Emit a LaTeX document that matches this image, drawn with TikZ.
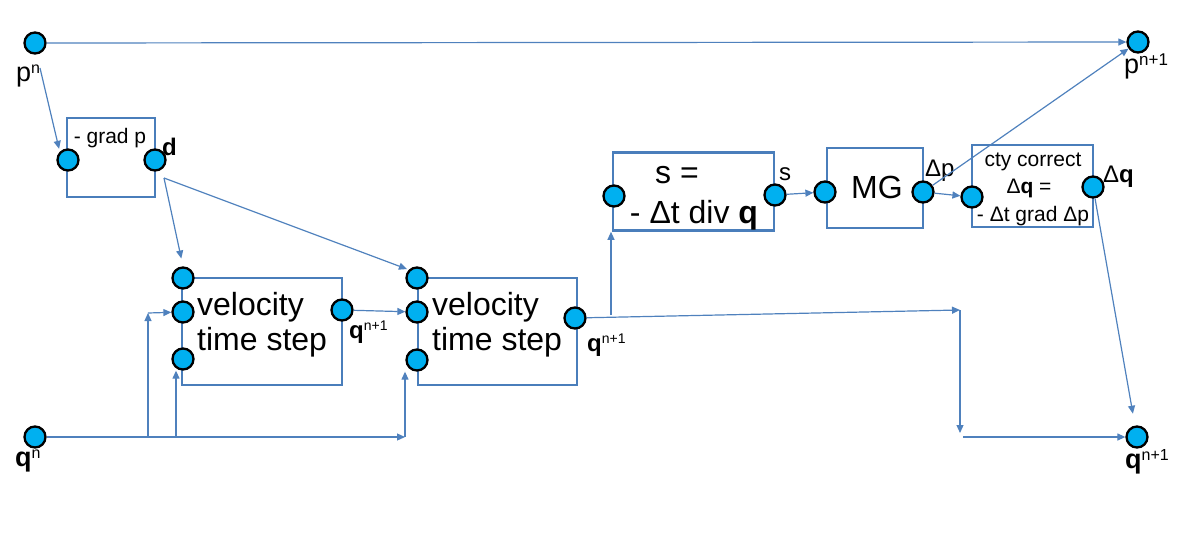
\documentclass[tikz,border=0pt]{standalone}
\usepackage{fontspec}
\setmainfont{Liberation Sans}
\usetikzlibrary{arrows.meta,positioning}
\definecolor{boxblue}{RGB}{74,126,187}
\definecolor{lineblue}{RGB}{79,129,189}
\definecolor{portblue}{RGB}{0,176,240}
\newcommand{\upidx}[2][14]{\raisebox{8pt}{\fontsize{#1}{#1}\selectfont #2}}
\tikzset{
  block/.style={
    draw=boxblue,
    line width=2.6pt,
    inner sep=0pt
  },
  port/.style={
    circle,
    draw=black,
    line width=2.3pt,
    fill=portblue,
    minimum size=21pt,
    inner sep=0pt
  },
  bigtxt/.style={
    inner sep=0pt,
    align=left,
    font=\fontsize{32}{35}\selectfont
  },
  smalltxt/.style={
    inner sep=0pt,
    align=center,
    font=\fontsize{21}{27.5}\selectfont
  },
  tag/.style={
    inner sep=0pt,
    anchor=base west,
    font=\fontsize{24}{24}\selectfont
  },
  endtag/.style={
    tag,
    font=\fontsize{27}{27}\selectfont
  },
  flow/.style={-{Triangle[length=8pt,width=7pt]}, line width=1.2pt, draw=lineblue}
}
\begin{document}
\begin{tikzpicture}[x=1pt, y=-1pt]
  \useasboundingbox (0,0) rectangle (1177,538);

  \node[block, minimum width=88pt, minimum height=79pt] (grad) at (111,157.5) {};
  \node[block, minimum width=160pt, minimum height=107pt] (vel1) at (262,331.5) {};
  \node[block, minimum width=159pt, minimum height=107pt] (vel2) at (497.5,331.5) {};
  \node[block, minimum width=161pt, minimum height=78pt] (sbox) at (693.5,191.5) {};
  \node[block, minimum width=96pt, minimum height=80pt] (mg) at (875,188) {};
  \node[block, minimum width=121pt, minimum height=82pt] (cty) at (1032.5,186) {};

  \node[smalltxt, anchor=base] (gradtxt) at (110,143) {- grad p};
  \node[bigtxt, anchor=west] (vel1txt) at (197,324.5) {velocity\\time step};
  \node[bigtxt, anchor=west] (vel2txt) at (432,324.5) {velocity\\time step};
  \node[bigtxt, align=center, font=\fontsize{32}{40}\selectfont] (stxt) at (694,198) {s =\rule{34pt}{0pt}\\- Δt div \textbf{q}};
  \node[bigtxt, anchor=base] (mgtxt) at (877,198) {MG};
  \node[smalltxt] (ctytxt) at (1033,189) {cty correct\\Δ\textbf{q} =\rule{8pt}{0pt}\\- Δt grad Δp};

  \node[port] (pn) at (35,43) {};
  \node[port] (pn1) at (1138,42) {};
  \node[port] (qn) at (35,437) {};
  \node[port] (qn1) at (1137,437) {};
  \node[port] (gl) at (68,160) {};
  \node[port] (gr) at (155,160) {};
  \node[port] (v1a) at (183,278) {};
  \node[port] (v1b) at (183,312) {};
  \node[port] (v1c) at (183,359) {};
  \node[port] (v1r) at (342,310) {};
  \node[port] (v2a) at (417,278) {};
  \node[port] (v2b) at (417,312) {};
  \node[port] (v2c) at (417,360) {};
  \node[port] (v2r) at (575,318) {};
  \node[port] (sl) at (614,196) {};
  \node[port] (sr) at (775,195) {};
  \node[port] (ml) at (825,192) {};
  \node[port] (mr) at (923,192) {};
  \node[port] (cl) at (972,197) {};
  \node[port] (cr) at (1093,187) {};

  \node[endtag] (pnlbl) at (16,81) {p\upidx[16]{n}};
  \node[endtag] (pn1lbl) at (1124,73) {p\upidx[17]{n+1}};
  \node[endtag] (qnlbl) at (15,466) {\textbf{q}\upidx[16]{n}};
  \node[endtag] (qn1lbl) at (1125,468) {\textbf{q}\upidx[16]{n+1}};
  \node[tag] (dlbl) at (162,155) {\textbf{d}};
  \node[tag] (v1lbl) at (349,338) {\textbf{q}\upidx{n+1}};
  \node[tag] (v2lbl) at (587,351) {\textbf{q}\upidx{n+1}};
  \node[tag] (slbl) at (779,180) {s};
  \node[tag] (dplbl) at (925,176) {Δp};
  \node[tag] (dqlbl) at (1103,182) {Δ\textbf{q}};

  \coordinate (dout) at (164,178);
  \coordinate (qend) at (405,437);
  \coordinate (qa) at (148,437);
  \coordinate (qat) at (148,313);
  \coordinate (qb) at (176,437);
  \coordinate (rjoin) at (960,310);
  \coordinate (stap) at (611,315);
  \coordinate (rdown) at (960,433);
  \coordinate (rturn) at (963,437);

  \draw[flow] (pn) -- (pn1);
  \draw[flow, shorten >=3pt] ([shift={(5,25)}]pn.center) -- (gl.north west);
  \draw[flow, shorten >=8pt] (dout) -- (v1a.north);
  \draw[flow, shorten >=2pt] (dout) -- (v2a.north west);
  \draw[flow] (v1r) -- (v2b);
  \draw[flow] (qn) -- (qend);
  \draw[flow] (qa) -- (qat);
  \draw[flow] (qat) -- (v1b);
  \draw[flow] (qb) -- (qb |- v1c.south);
  \draw[flow] (qend) -- (qend |- v2c.south);
  \draw[flow] (v2r) -- (rjoin);
  \draw[flow] (stap) -- (stap |- sbox.south);
  \draw[flow] (rjoin) -- (rdown);
  \draw[flow] (rturn) -- (qn1);
  \draw[flow] (sr) -- (ml);
  \draw[flow] (mr) -- (cl);
  \draw[flow] (mr) -- (pn1);
  \draw[flow, shorten >=12pt] (cr) -- (qn1);
\end{tikzpicture}
\end{document}
